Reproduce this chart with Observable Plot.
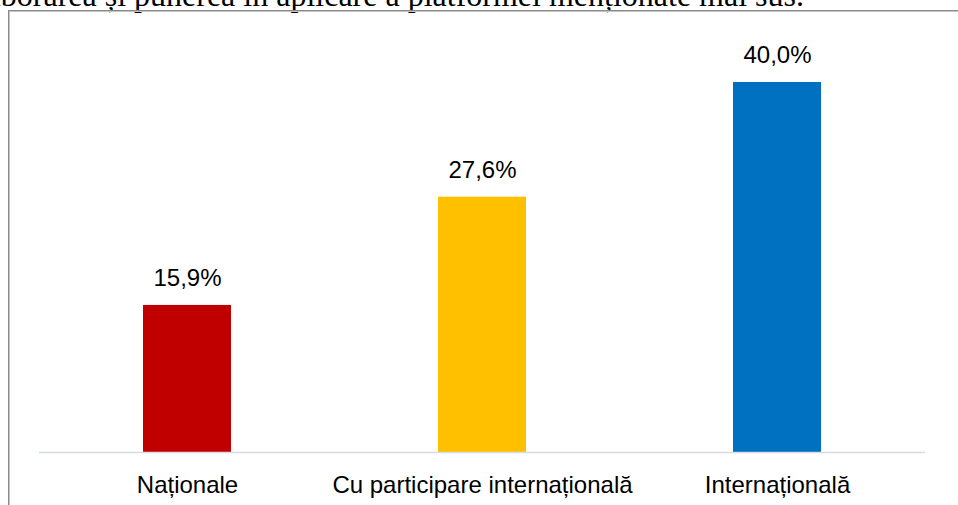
<!DOCTYPE html>
<html>
<head>
<meta charset="utf-8">
<script src="https://cdn.jsdelivr.net/npm/d3@7"></script>
<script src="https://cdn.jsdelivr.net/npm/@observablehq/plot@0.6"></script>
<style>
  html, body { margin: 0; padding: 0; background: #fff; overflow: hidden; width: 958px; height: 505px; }
  #wrap { position: relative; width: 958px; height: 505px; overflow: hidden; }
  #doctext { position: absolute; right: 154px; top: -21px; font-family: "Liberation Serif", "Times New Roman", serif; font-size: 32px; line-height: 32px; white-space: nowrap; color: #000; }
  #frame { position: absolute; left: 8px; top: 10px; width: 2000px; height: 2000px; border-left: 1px solid #8a8a8a; border-top: 1px solid #8a8a8a; box-shadow: inset 1px 1px 0 #c4c4c4; }
  #chart { position: absolute; left: 0; top: 0; }
</style>
</head>
<body>
<div id="wrap">
  <div id="doctext">elaborarea și punerea în aplicare a platformei menționate mai sus.</div>
  <div id="frame"></div>
  <div id="chart"></div>
</div>
<script>
const categories = ["Naționale", "Cu participare internațională", "Internațională"];
const values = [15.9, 27.6, 40.0];
const labels = ["15,9%", "27,6%", "40,0%"];
const colors = ["#C00000", "#FFC000", "#0070C0"];

const data = categories.map((c, i) => ({cat: c, value: values[i], label: labels[i], color: colors[i]}));

const chart = Plot.plot({
  width: 958,
  height: 505,
  marginLeft: 39,
  marginRight: 33,
  marginTop: 82,
  marginBottom: 53,
  style: {fontFamily: "'Liberation Sans', Arial, sans-serif", fontSize: "24px", background: "transparent", color: "#000"},
  x: {domain: categories, paddingInner: 0.702, paddingOuter: 0.351, label: null},
  y: {domain: [0, 40], axis: null},
  marks: [
    Plot.barY(data, {x: "cat", y: "value", fill: "color"}),
    Plot.ruleY([0], {stroke: "#d6dce4", strokeWidth: 1.5}),
    Plot.text(data, {x: "cat", y: "value", text: "label", dy: -27, fontSize: 24, fill: "#000"}),
    Plot.axisX({tickSize: 0, tickPadding: 23, fontSize: 24, fill: "#000", label: null})
  ]
});
document.getElementById("chart").appendChild(chart);
</script>
</body>
</html>
